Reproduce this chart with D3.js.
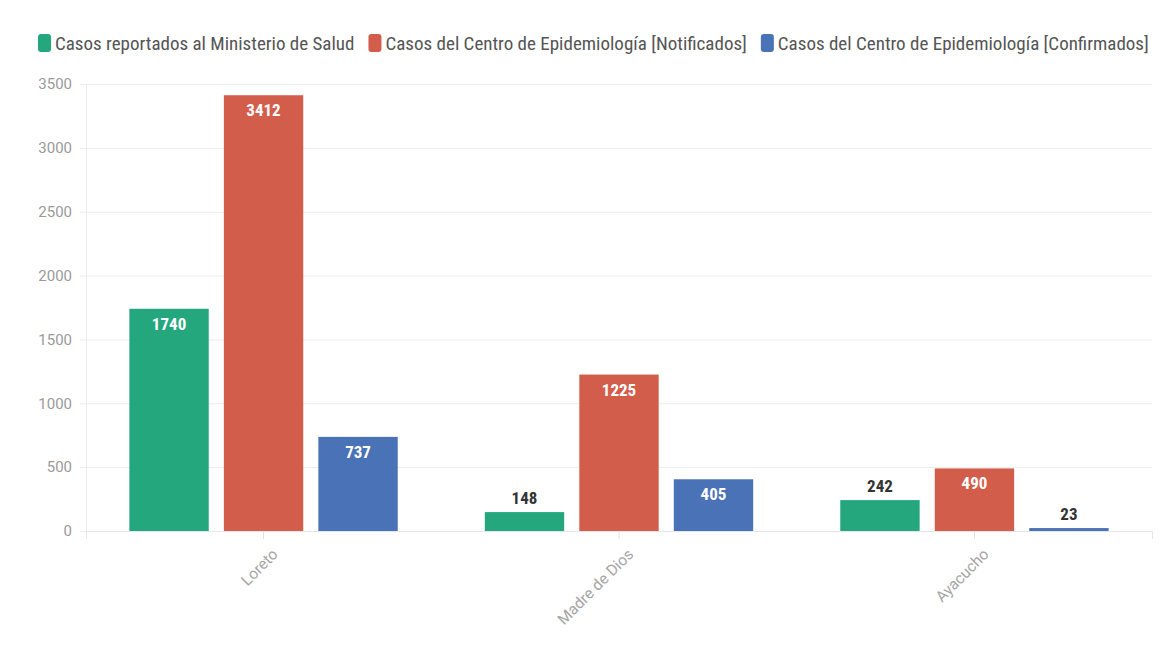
<!DOCTYPE html>
<html>
<head>
<meta charset="utf-8">
<script src="https://cdn.jsdelivr.net/npm/d3@7"></script>
<style>
  body { margin: 0; background: #fff; }
  svg { display: block; }
  .cond { font-family: "Liberation Sans Narrow", "Roboto Condensed", Roboto, sans-serif; }
</style>
</head>
<body>
<script>
const width = 1162
const height = 649

const regiones = ["Loreto", "Madre de Dios", "Ayacucho"]
const series = [
  "Casos reportados al Ministerio de Salud",
  "Casos del Centro de Epidemiología [Notificados]",
  "Casos del Centro de Epidemiología [Confirmados]"
]
const minsa = [1740, 148, 242]
const notificados = [3412, 1225, 490]
const confirmados = [737, 405, 23]
const colores = ["#25a77d", "#d35d4b", "#4a72b6"]
const yTicks = [0, 500, 1000, 1500, 2000, 2500, 3000, 3500]

const valores = [minsa, notificados, confirmados]

const margin = {top: 84, right: 10, bottom: 118, left: 86}

const svg = d3.select("body").append("svg")
  .attr("width", width)
  .attr("height", height)

const x = d3.scaleBand()
  .domain(regiones)
  .range([margin.left, width - margin.right])
  .paddingInner(0.245)
  .paddingOuter(0.122)

const xs = d3.scaleBand()
  .domain(d3.range(series.length))
  .range([0, x.bandwidth()])
  .paddingInner(0.16)

const y = d3.scaleLinear()
  .domain([0, 3500])
  .range([height - margin.bottom, margin.top])

// rejilla
svg.append("g")
  .selectAll("line")
  .data(yTicks)
  .join("line")
  .attr("x1", margin.left - 6)
  .attr("x2", width - margin.right)
  .attr("y1", d => y(d) + 0.5)
  .attr("y2", d => y(d) + 0.5)
  .attr("stroke", "#ececec")

svg.append("line")
  .attr("x1", margin.left + 0.5).attr("x2", margin.left + 0.5)
  .attr("y1", y(3500)).attr("y2", y(0))
  .attr("stroke", "#ececec")

// eje y
const yAxis = svg.append("g")
  .attr("transform", `translate(${margin.left - 10},0)`)
  .call(d3.axisLeft(y).tickValues(yTicks).tickFormat(d3.format("d")).tickSize(0).tickPadding(4))
yAxis.select(".domain").remove()
yAxis.selectAll("text")
  .attr("fill", "#9a9a9a")
  .style("font-family", "Roboto, sans-serif")
  .style("font-size", "15px")

// eje x
const xAxis = svg.append("g")
  .attr("transform", `translate(0,${y(0)})`)
  .call(d3.axisBottom(x).tickSize(8).tickPadding(4))
xAxis.select(".domain").attr("stroke", "#e6e6e6")
xAxis.selectAll(".tick line").attr("stroke", "#e0e0e0")
xAxis.selectAll("text")
  .attr("fill", "#a5a5a5")
  .style("font-family", "Roboto, sans-serif")
  .style("font-size", "15.5px")
  .attr("text-anchor", "end")
  .attr("dy", "0.35em")
  .attr("transform", "translate(3,12) rotate(-45)")

// barras
const grupos = svg.append("g")
  .selectAll("g")
  .data(regiones)
  .join("g")
  .attr("transform", d => `translate(${x(d)},0)`)

grupos.selectAll("rect")
  .data((d, i) => valores.map((v, s) => ({s, v: v[i]})))
  .join("rect")
  .attr("x", d => xs(d.s))
  .attr("width", xs.bandwidth())
  .attr("y", d => y(d.v))
  .attr("height", d => y(0) - y(d.v))
  .attr("fill", d => colores[d.s])

grupos.selectAll("text")
  .data((d, i) => valores.map((v, s) => ({s, v: v[i]})))
  .join("text")
  .attr("class", "cond")
  .attr("x", d => xs(d.s) + xs.bandwidth() / 2)
  .attr("y", d => (y(0) - y(d.v) > 40) ? y(d.v) + 21 : y(d.v) - 8)
  .attr("text-anchor", "middle")
  .attr("fill", d => (y(0) - y(d.v) > 40) ? "#fff" : "#333")
  .style("font-size", "17px")
  .style("font-weight", "bold")
  .text(d => d.v)

// leyenda
const leyenda = svg.append("g")
  .attr("class", "cond")
  .style("font-size", "19px")

let lx = 38
series.forEach((s, i) => {
  leyenda.append("rect")
    .attr("x", lx).attr("y", 34)
    .attr("width", 13).attr("height", 18)
    .attr("rx", 3)
    .attr("fill", colores[i])
  const t = leyenda.append("text")
    .attr("x", lx + 17).attr("y", 50)
    .attr("fill", "#555")
    .text(s)
  lx += 17 + t.node().getComputedTextLength() + 14
})
</script>
</body>
</html>
